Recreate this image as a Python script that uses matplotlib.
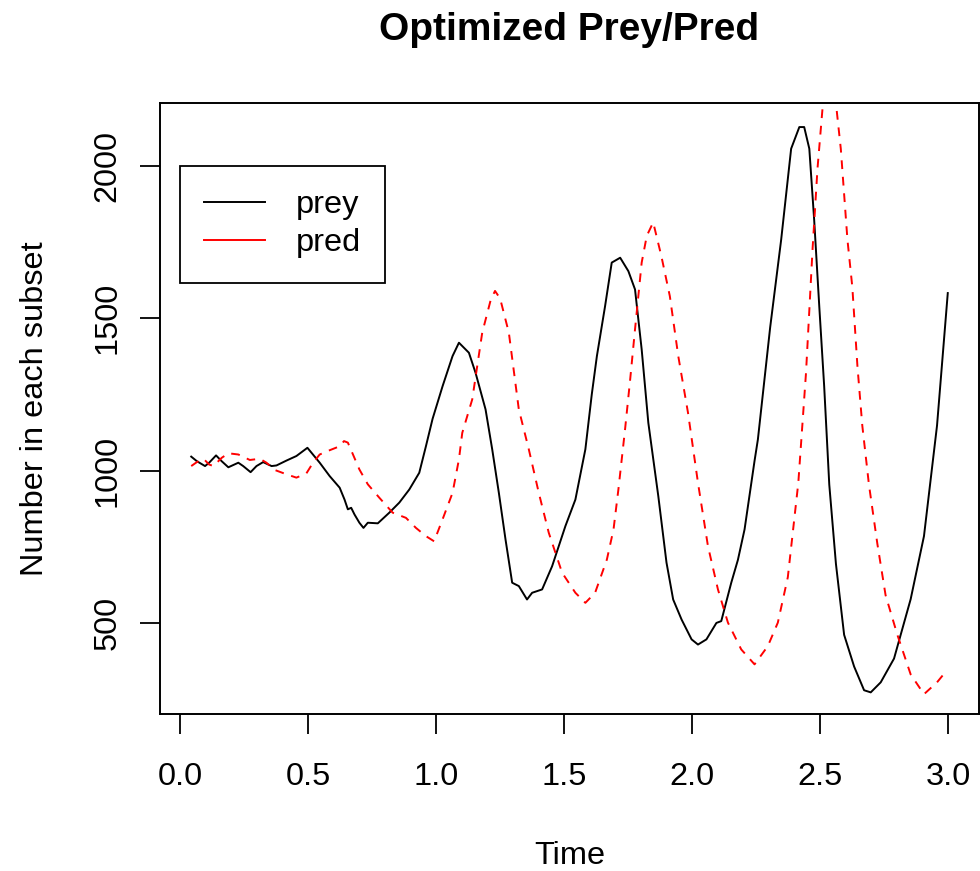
import matplotlib
matplotlib.use("Agg")
import matplotlib.pyplot as plt

plt.rcParams['font.family'] = ['Liberation Sans', 'DejaVu Sans']

# prey (black, solid)
prey_t = [0.043, 0.065, 0.097, 0.113, 0.140, 0.162, 0.188, 0.227, 0.246, 0.275,
          0.298, 0.324, 0.357, 0.376, 0.415, 0.454, 0.497, 0.545, 0.584, 0.623,
          0.642, 0.655, 0.668, 0.681, 0.700, 0.716, 0.733, 0.772, 0.817, 0.856,
          0.895, 0.934, 0.960, 0.986, 1.025, 1.064, 1.089, 1.128, 1.154, 1.193,
          1.219, 1.245, 1.271, 1.297, 1.323, 1.355, 1.375, 1.414, 1.453, 1.505,
          1.544, 1.583, 1.608, 1.628, 1.660, 1.686, 1.719, 1.751, 1.777, 1.803,
          1.829, 1.868, 1.900, 1.926, 1.959, 1.998, 2.023, 2.056, 2.095, 2.114,
          2.153, 2.179, 2.205, 2.244, 2.257, 2.305, 2.348, 2.387, 2.419, 2.438,
          2.458, 2.477, 2.497, 2.516, 2.536, 2.562, 2.594, 2.633, 2.672, 2.698,
          2.737, 2.789, 2.854, 2.906, 2.957, 2.999]
prey = [1046, 1031, 1015, 1026, 1050, 1031, 1011, 1026, 1015, 995,
        1015, 1028, 1015, 1017, 1033, 1048, 1075, 1026, 982, 944,
        905, 873, 878, 856, 829, 812, 829, 827, 862, 895,
        938, 993, 1080, 1170, 1277, 1376, 1420, 1387, 1321, 1201,
        1070, 927, 774, 632, 621, 577, 599, 610, 686, 818,
        905, 1070, 1250, 1376, 1540, 1683, 1699, 1655, 1595, 1398,
        1157, 916, 698, 577, 511, 446, 429, 446, 500, 506,
        632, 707, 807, 1032, 1102, 1470, 1758, 2057, 2128, 2128,
        2057, 1823, 1538, 1278, 954, 694, 461, 357, 279, 272,
        305, 383, 578, 785, 1148, 1583]

# pred (red, dashed)
pred_t = [0.043, 0.065, 0.091, 0.113, 0.130, 0.162, 0.188, 0.227, 0.272, 0.311,
          0.337, 0.370, 0.415, 0.454, 0.493, 0.519, 0.545, 0.584, 0.623, 0.640,
          0.655, 0.675, 0.700, 0.733, 0.778, 0.830, 0.882, 0.921, 0.960, 0.992,
          1.025, 1.064, 1.089, 1.102, 1.141, 1.180, 1.213, 1.230, 1.250, 1.284,
          1.323, 1.362, 1.401, 1.440, 1.492, 1.544, 1.583, 1.621, 1.667, 1.693,
          1.712, 1.738, 1.758, 1.777, 1.803, 1.823, 1.848, 1.880, 1.913, 1.946,
          1.984, 2.023, 2.062, 2.101, 2.140, 2.192, 2.244, 2.296, 2.335, 2.374,
          2.415, 2.445, 2.471, 2.490, 2.510, 2.535, 2.562, 2.581, 2.607, 2.626,
          2.646, 2.665, 2.691, 2.724, 2.756, 2.802, 2.854, 2.906, 2.957, 2.996]
pred = [1015, 1028, 1039, 1020, 1015, 1042, 1057, 1053, 1035, 1039,
        1026, 1002, 988, 977, 991, 1026, 1053, 1067, 1080, 1097,
        1092, 1053, 1004, 955, 911, 862, 845, 812, 785, 768,
        840, 927, 1037, 1124, 1234, 1453, 1560, 1590, 1565, 1453,
        1201, 1070, 927, 796, 665, 599, 566, 599, 708, 807,
        938, 1135, 1299, 1464, 1683, 1771, 1815, 1704, 1573, 1376,
        1190, 960, 752, 610, 501, 413, 364, 424, 501, 650,
        960, 1320, 1732, 1992, 2193, 2330, 2206, 2057, 1758, 1603,
        1343, 1148, 954, 759, 591, 461, 331, 266, 305, 345]

fig = plt.figure(figsize=(9.8, 8.71), dpi=100)
ax = fig.add_axes([160/980, 157/871, 819/980, 611/871])

ax.plot(prey_t, prey, color='black', lw=1.4, label='prey')
ax.plot(pred_t, pred, color='red', lw=1.4, ls=(0, (4.5, 4)), label='pred')

ax.set_xlim(-0.079, 3.121)
ax.set_ylim(201, 2207)
ax.set_xticks([0.0, 0.5, 1.0, 1.5, 2.0, 2.5, 3.0])
ax.set_xticklabels(['0.0', '0.5', '1.0', '1.5', '2.0', '2.5', '3.0'])
ax.set_yticks([500, 1000, 1500, 2000])
ax.set_yticklabels(['500', '1000', '1500', '2000'], rotation=90, va='center')

for s in ax.spines.values():
    s.set_linewidth(1.4)
ax.tick_params(direction='out', length=14.4, width=1.3, labelsize=23.4)
ax.tick_params(axis='x', pad=20.5)
ax.tick_params(axis='y', pad=12.5)

ax.set_xlabel('Time', fontsize=23.4, labelpad=35)
ax.set_ylabel('Number in each subset', fontsize=23.4, labelpad=31)
ax.set_title('Optimized Prey/Pred', fontsize=28, fontweight='bold', pad=45)

leg = ax.legend(loc='upper left', bbox_to_anchor=(20/819, (714-166)/611),
                fontsize=23.4, handlelength=1.85, handletextpad=0.95,
                labelspacing=0.24, borderpad=0.75, borderaxespad=0,
                fancybox=False, edgecolor='black', framealpha=1)
leg.get_frame().set_linewidth(1.3)
for h in leg.get_lines():
    h.set_linestyle('-')

fig.savefig('out.png', dpi=100)
